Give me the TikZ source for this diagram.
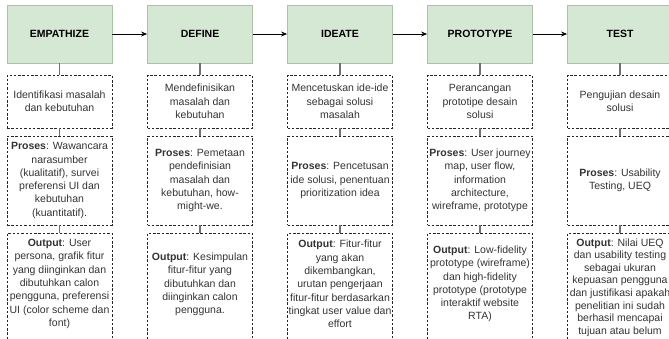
\documentclass[tikz,border=0pt]{standalone}
\usepackage{fontspec}
\setmainfont{Liberation Sans}
\usetikzlibrary{arrows.meta}
\definecolor{phasefill}{HTML}{D5E8D4}
\definecolor{phaseline}{HTML}{A8C4A4}
\definecolor{stemgray}{HTML}{707070}
\begin{document}
\begin{tikzpicture}[x=1pt,y=-1pt,
  phase/.style={draw=phaseline, fill=phasefill, line width=0.8pt, minimum width=105pt, minimum height=58pt, inner sep=0pt, font=\fontsize{10.5}{12}\selectfont\bfseries},
  note/.style={draw=black!85, dash pattern=on 2.5pt off 1.8pt, line width=0.7pt, minimum width=105pt, inner sep=0pt, align=center, font=\fontsize{10.5}{13.3}\selectfont, text=black!80},
  noteA/.style={note, minimum height=53pt},
  noteB/.style={note, minimum height=89pt},
  noteC/.style={note, minimum height=112pt},
  flow/.style={draw=black, line width=0.9pt, -{Stealth[length=6pt,width=5pt]}},
  stem/.style={draw=stemgray, line width=1.3pt}
]
\useasboundingbox (0,0) rectangle (669,338);
\clip (0,0) rectangle (669,338);
% phase boxes
\node[phase] (g1) at (59.5,34) {EMPATHIZE};
\node[phase] (g2) at (200,34) {DEFINE};
\node[phase] (g3) at (340,34) {IDEATE};
\node[phase] (g4) at (480,34) {PROTOTYPE};
\node[phase] (g5) at (620,34) {TEST};
% first row
\node[noteA] (a1) at (59.5,101.5) {Identifikasi masalah\\dan kebutuhan};
\node[noteA] (a2) at (200,101.5) {Mendefinisikan\\masalah dan\\kebutuhan};
\node[noteA] (a3) at (340,101.5) {Mencetuskan ide-ide\\sebagai solusi\\masalah};
\node[noteA] (a4) at (480,101.5) {Perancangan\\prototipe desain\\solusi};
\node[noteA] (a5) at (620,101.5) {Pengujian desain\\solusi};
% second row
\node[noteB] (b1) at (59.5,180.5) {\textbf{Proses}: Wawancara\\narasumber\\(kualitatif), survei\\preferensi UI dan\\kebutuhan\\(kuantitatif).};
\node[noteB] (b2) at (200,180.5) {\textbf{Proses}: Pemetaan\\pendefinisian\\masalah dan\\kebutuhan, how-\\might-we.};
\node[noteB] (b3) at (340,180.5) {\textbf{Proses}: Pencetusan\\ide solusi, penentuan\\prioritization idea};
\node[noteB] (b4) at (480,180.5) {\textbf{Proses}: User journey\\map, user flow,\\information\\architecture,\\wireframe, prototype};
\node[noteB] (b5) at (620,180.5) {\textbf{Proses}: Usability\\Testing, UEQ};
% third row
\node[noteC] (c1) at (59.5,289) {};
\node[noteC] (c2) at (200,289) {};
\node[noteC] (c3) at (340,289) {};
\node[noteC] (c4) at (480,289) {};
\node[noteC] (c5) at (620,289) {};
\node[note, draw=none] (t1) at (59.5,284) {\textbf{Output}: User\\persona, grafik fitur\\yang diinginkan dan\\dibutuhkan calon\\pengguna, preferensi\\UI (color scheme dan\\font)};
\node[note, draw=none] (t2) at (200,284.5) {\textbf{Output}: Kesimpulan\\fitur-fitur yang\\dibutuhkan dan\\diinginkan calon\\pengguna.};
\node[note, draw=none] (t3) at (340,284) {\textbf{Output}: Fitur-fitur\\yang akan\\dikembangkan,\\urutan pengerjaan\\fitur-fitur berdasarkan\\tingkat user value dan\\effort};
\node[note, draw=none] (t4) at (480,284) {\textbf{Output}: Low-fidelity\\prototype (wireframe)\\dan high-fidelity\\prototype (prototype\\interaktif website\\RTA)};
\node[note, draw=none, font=\fontsize{10.5}{12.6}\selectfont] (t5) at (620,287.5) {\textbf{Output}: Nilai UEQ\\dan usability testing\\sebagai ukuran\\kepuasan pengguna\\dan justifikasi apakah\\penelitian ini sudah\\berhasil mencapai\\tujuan atau belum};
% arrows
\draw[flow] (g1) -- (g2);
\draw[flow] (g2) -- (g3);
\draw[flow] (g3) -- (g4);
\draw[flow] (g4) -- (g5);
% stems
\foreach \i in {1,...,5}{
  \draw[stem] (g\i.south) -- (a\i.north);
  \draw[stem] (a\i.south) -- (b\i.north);
  \draw[stem] (b\i.south) -- (c\i.north);
}
\end{tikzpicture}
\end{document}
